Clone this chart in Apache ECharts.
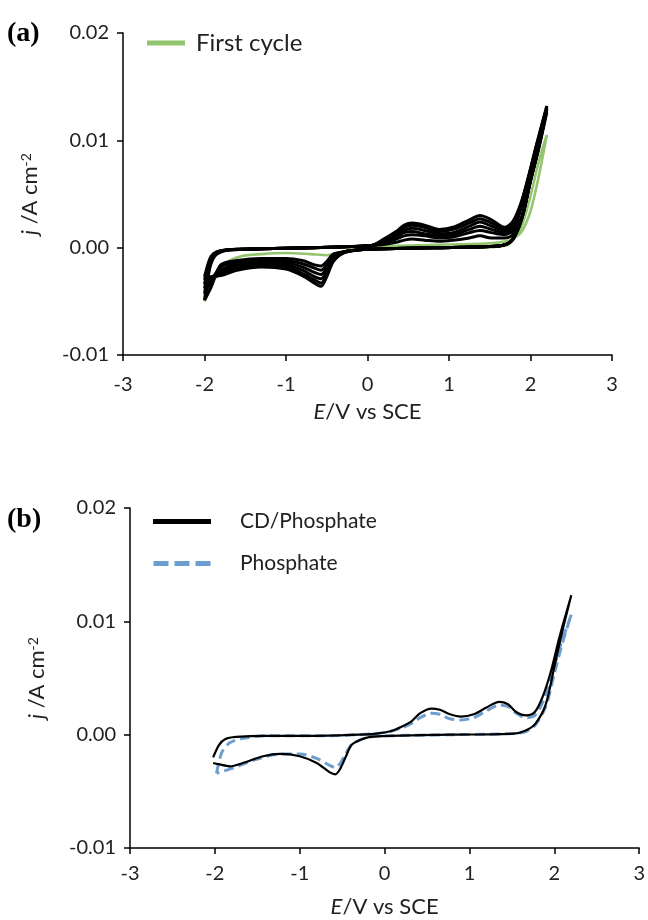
<!DOCTYPE html>
<html>
<head>
<meta charset="utf-8">
<script src="https://cdn.jsdelivr.net/npm/echarts@6/dist/echarts.min.js"></script>
<style>
  html, body { margin: 0; padding: 0; background: #fff; }
  #chart { width: 648px; height: 920px; }
</style>
</head>
<body>
<div id="chart"></div>
<script>
// x ticks (V vs SCE) and y ticks (A cm-2)
const xTicks = [-3, -2, -1, 0, 1, 2, 3]
const yTicks = [-0.01, 0.00, 0.01, 0.02]

// (a) first cycle, green
const firstCycle = [
  [0.0, 0.0000], [-0.2, -0.0002], [-0.4, -0.0006], [-0.5, -0.0007], [-0.7, -0.0006], [-1.0, -0.0005],
  [-1.3, -0.0006], [-1.55, -0.0008], [-1.75, -0.0015], [-1.88, -0.0030], [-2.0, -0.0050],
  [-1.95, -0.0020], [-1.88, -0.0007], [-1.75, -0.0002], [-1.3, -0.0001], [-0.5, 0.0000], [0.0, 0.0001],
  [0.5, 0.0002], [1.0, 0.0003], [1.5, 0.0004], [1.7, 0.0006], [1.8, 0.0009], [1.9, 0.0016],
  [2.0, 0.0034], [2.1, 0.0066], [2.2, 0.0105], [2.1, 0.0080], [2.0, 0.0048], [1.9, 0.0022],
  [1.8, 0.0008], [1.7, 0.0002], [1.3, 0.0000], [0.5, 0.0000], [0.0, 0.0000]
]

// (a) later cycles, black
const cycle1 = [
  [-2.0, -0.0049], [-1.96, -0.0029], [-1.92, -0.0015], [-1.85, -0.0006], [-1.7, -0.0002], [-1.3, -0.0001], [-0.7, 0.0000], [-0.2, 0.0001], [0.05, 0.0002], [0.2, 0.0003], [0.35, 0.0005], [0.45, 0.0007], [0.55, 0.0008], [0.7, 0.0007], [0.88, 0.0006], [1.05, 0.0007], [1.25, 0.0009], [1.38, 0.0011], [1.52, 0.0009], [1.68, 0.0009], [1.78, 0.0012], [1.88, 0.0036], [1.97, 0.0060], [2.07, 0.0090], [2.2, 0.0126],
  [2.1, 0.0092], [2.0, 0.0062], [1.9, 0.0029], [1.8, 0.0010], [1.7, 0.0003], [1.5, 0.0001], [0.8, 0.0000], [0.2, -0.0001], [-0.1, -0.0002], [-0.3, -0.0004], [-0.42, -0.0006], [-0.5, -0.0013], [-0.57, -0.0017], [-0.65, -0.0016], [-0.8, -0.0012], [-1.0, -0.0010], [-1.3, -0.0010], [-1.6, -0.0012], [-1.8, -0.0016], [-1.92, -0.0037], [-2.0, -0.0049]
]
const cycle2 = [
  [-2.0, -0.0043], [-1.96, -0.0026], [-1.92, -0.0013], [-1.85, -0.0006], [-1.7, -0.0002], [-1.3, -0.0001], [-0.7, 0.0000], [-0.2, 0.0001], [0.05, 0.0002], [0.2, 0.0004], [0.35, 0.0008], [0.45, 0.0011], [0.55, 0.0012], [0.7, 0.0011], [0.88, 0.0009], [1.05, 0.0010], [1.25, 0.0014], [1.38, 0.0016], [1.52, 0.0014], [1.68, 0.0012], [1.78, 0.0016], [1.88, 0.0037], [1.97, 0.0061], [2.07, 0.0091], [2.2, 0.0128],
  [2.1, 0.0093], [2.0, 0.0062], [1.9, 0.0029], [1.8, 0.0010], [1.7, 0.0003], [1.5, 0.0001], [0.8, 0.0000], [0.2, -0.0001], [-0.1, -0.0002], [-0.3, -0.0004], [-0.42, -0.0007], [-0.5, -0.0016], [-0.57, -0.0021], [-0.65, -0.0019], [-0.8, -0.0015], [-1.0, -0.0012], [-1.3, -0.0012], [-1.6, -0.0014], [-1.8, -0.0018], [-1.92, -0.0032], [-2.0, -0.0043]
]
const cycle3 = [
  [-2.0, -0.0038], [-1.96, -0.0023], [-1.92, -0.0011], [-1.85, -0.0005], [-1.7, -0.0002], [-1.3, -0.0001], [-0.7, 0.0000], [-0.2, 0.0001], [0.05, 0.0002], [0.2, 0.0005], [0.35, 0.0010], [0.45, 0.0014], [0.55, 0.0015], [0.7, 0.0013], [0.88, 0.0011], [1.05, 0.0012], [1.25, 0.0017], [1.38, 0.0020], [1.52, 0.0017], [1.68, 0.0014], [1.78, 0.0018], [1.88, 0.0038], [1.97, 0.0062], [2.07, 0.0092], [2.2, 0.0129],
  [2.1, 0.0093], [2.0, 0.0063], [1.9, 0.0029], [1.8, 0.0010], [1.7, 0.0003], [1.5, 0.0001], [0.8, 0.0000], [0.2, -0.0001], [-0.1, -0.0002], [-0.3, -0.0004], [-0.42, -0.0009], [-0.5, -0.0019], [-0.57, -0.0025], [-0.65, -0.0023], [-0.8, -0.0018], [-1.0, -0.0014], [-1.3, -0.0014], [-1.6, -0.0016], [-1.8, -0.0021], [-1.92, -0.0029], [-2.0, -0.0038]
]
const cycle4 = [
  [-2.0, -0.0034], [-1.96, -0.0020], [-1.92, -0.0010], [-1.85, -0.0005], [-1.7, -0.0002], [-1.3, -0.0001], [-0.7, 0.0000], [-0.2, 0.0001], [0.05, 0.0002], [0.2, 0.0006], [0.35, 0.0012], [0.45, 0.0016], [0.55, 0.0018], [0.7, 0.0016], [0.88, 0.0013], [1.05, 0.0014], [1.25, 0.0020], [1.38, 0.0024], [1.52, 0.0020], [1.68, 0.0016], [1.78, 0.0020], [1.88, 0.0039], [1.97, 0.0063], [2.07, 0.0093], [2.2, 0.0130],
  [2.1, 0.0094], [2.0, 0.0063], [1.9, 0.0029], [1.8, 0.0010], [1.7, 0.0003], [1.5, 0.0001], [0.8, 0.0000], [0.2, -0.0001], [-0.1, -0.0002], [-0.3, -0.0004], [-0.42, -0.0010], [-0.5, -0.0022], [-0.57, -0.0029], [-0.65, -0.0027], [-0.8, -0.0021], [-1.0, -0.0016], [-1.3, -0.0015], [-1.6, -0.0018], [-1.8, -0.0023], [-1.92, -0.0028], [-2.0, -0.0034]
]
const cycle5 = [
  [-2.0, -0.0030], [-1.96, -0.0018], [-1.92, -0.0009], [-1.85, -0.0004], [-1.7, -0.0002], [-1.3, -0.0001], [-0.7, 0.0000], [-0.2, 0.0001], [0.05, 0.0002], [0.2, 0.0007], [0.35, 0.0014], [0.45, 0.0019], [0.55, 0.0021], [0.7, 0.0019], [0.88, 0.0015], [1.05, 0.0017], [1.25, 0.0023], [1.38, 0.0027], [1.52, 0.0023], [1.68, 0.0018], [1.78, 0.0022], [1.88, 0.0040], [1.97, 0.0064], [2.07, 0.0094], [2.2, 0.0131],
  [2.1, 0.0094], [2.0, 0.0064], [1.9, 0.0030], [1.8, 0.0010], [1.7, 0.0003], [1.5, 0.0001], [0.8, 0.0000], [0.2, -0.0001], [-0.1, -0.0002], [-0.3, -0.0005], [-0.42, -0.0012], [-0.5, -0.0025], [-0.57, -0.0033], [-0.65, -0.0030], [-0.8, -0.0024], [-1.0, -0.0018], [-1.3, -0.0017], [-1.6, -0.0020], [-1.8, -0.0025], [-1.92, -0.0028], [-2.0, -0.0030]
]
const cycle6 = [
  [-2.0, -0.0027], [-1.96, -0.0016], [-1.92, -0.0008], [-1.85, -0.0004], [-1.7, -0.0002], [-1.3, -0.0001], [-0.7, 0.0000], [-0.2, 0.0001], [0.05, 0.0002], [0.2, 0.0008], [0.35, 0.0015], [0.45, 0.0021], [0.55, 0.0023], [0.7, 0.0021], [0.88, 0.0017], [1.05, 0.0019], [1.25, 0.0026], [1.38, 0.0030], [1.52, 0.0026], [1.68, 0.0019], [1.78, 0.0024], [1.88, 0.0041], [1.97, 0.0065], [2.07, 0.0095], [2.2, 0.0132],
  [2.1, 0.0095], [2.0, 0.0064], [1.9, 0.0030], [1.8, 0.0010], [1.7, 0.0003], [1.5, 0.0001], [0.8, 0.0000], [0.2, -0.0001], [-0.1, -0.0002], [-0.3, -0.0005], [-0.42, -0.0013], [-0.5, -0.0027], [-0.57, -0.0036], [-0.65, -0.0033], [-0.8, -0.0026], [-1.0, -0.0020], [-1.3, -0.0018], [-1.6, -0.0021], [-1.8, -0.0026], [-1.92, -0.0027], [-2.0, -0.0027]
]
const laterCycles = [cycle1, cycle2, cycle3, cycle4, cycle5, cycle6]

// (b) CD/Phosphate, solid black
const cdPhosphate = [
  [-2.02, -0.0020], [-1.95, -0.0009], [-1.88, -0.0004], [-1.75, -0.0002], [-1.4, -0.0001], [-0.8, -0.0001], [-0.3, 0.0000], [-0.1, 0.0001], [0.07, 0.0003], [0.2, 0.0007], [0.32, 0.0012], [0.42, 0.0019], [0.55, 0.0023], [0.65, 0.0022], [0.77, 0.0018], [0.9, 0.0016], [1.05, 0.0018], [1.2, 0.0024], [1.35, 0.0029], [1.45, 0.0027], [1.55, 0.0020], [1.67, 0.0017], [1.77, 0.0020], [1.86, 0.0033], [1.96, 0.0056], [2.06, 0.0086], [2.2, 0.0123],
  [2.1, 0.0093], [2.0, 0.0060], [1.9, 0.0027], [1.78, 0.0010], [1.67, 0.0004], [1.52, 0.0001], [0.8, 0.0000], [0.07, -0.0001], [-0.17, -0.0002], [-0.3, -0.0005], [-0.39, -0.0009], [-0.46, -0.0020], [-0.53, -0.0031], [-0.58, -0.0035], [-0.65, -0.0033], [-0.8, -0.0025], [-1.0, -0.0019], [-1.23, -0.0017], [-1.43, -0.0019], [-1.67, -0.0025], [-1.82, -0.0028], [-1.96, -0.0026], [-2.02, -0.0025]
]
// (b) Phosphate, dashed blue
const phosphate = [
  [-1.98, -0.0034], [-1.92, -0.0016], [-1.82, -0.0007], [-1.65, -0.0003], [-1.4, -0.0001], [-0.8, -0.0001], [-0.3, 0.0000], [-0.1, 0.0001], [0.07, 0.0003], [0.2, 0.0006], [0.32, 0.0010], [0.42, 0.0015], [0.55, 0.0019], [0.65, 0.0018], [0.77, 0.0014], [0.9, 0.0013], [1.05, 0.0015], [1.2, 0.0021], [1.35, 0.0026], [1.45, 0.0025], [1.55, 0.0019], [1.67, 0.0015], [1.77, 0.0017], [1.86, 0.0028], [1.96, 0.0050], [2.06, 0.0076], [2.2, 0.0106],
  [2.1, 0.0082], [2.0, 0.0054], [1.9, 0.0025], [1.78, 0.0009], [1.67, 0.0003], [1.52, 0.0001], [0.8, 0.0000], [0.07, -0.0001], [-0.17, -0.0002], [-0.3, -0.0005], [-0.39, -0.0009], [-0.46, -0.0017], [-0.53, -0.0026], [-0.58, -0.0029], [-0.65, -0.0027], [-0.8, -0.0021], [-1.0, -0.0017], [-1.23, -0.0017], [-1.52, -0.0022], [-1.81, -0.0030], [-1.98, -0.0034]
]

const FONT = 'Lato, "Liberation Sans", sans-serif'
const TXT = '#222'
const GREEN = '#93c56f'
const BLUE = '#6c9fcf'
const DASH_ICON = 'path://M0,0h15v5h-15z M21,0h15v5h-15z M42,0h15v5h-15z'

const fmtY = v => (Math.abs(v) < 1e-9 ? 0 : v).toFixed(2)

// Общие настройки осей для обеих панелей
function xAxisFor(idx, labelMargin, nameGap) {
  return {
    gridIndex: idx,
    type: 'value',
    min: xTicks[0],
    max: xTicks[xTicks.length - 1],
    interval: 1,
    axisLine: { onZero: false, lineStyle: { color: '#000', width: 1.5 } },
    axisTick: { length: 6, lineStyle: { color: '#000', width: 1.5 } },
    splitLine: { show: false },
    axisLabel: { fontSize: 20, color: TXT, fontFamily: FONT, margin: labelMargin },
    name: '{i|E}/V vs SCE',
    nameLocation: 'middle',
    nameGap: nameGap,
    nameTextStyle: {
      fontSize: 22, color: TXT, fontFamily: FONT,
      rich: { i: { fontSize: 22, fontStyle: 'italic', color: TXT, fontFamily: FONT } },
    },
  }
}
function yAxisFor(idx, nameGap) {
  return {
    gridIndex: idx,
    type: 'value',
    min: yTicks[0],
    max: yTicks[yTicks.length - 1],
    interval: 0.01,
    axisLine: { show: true, onZero: false, lineStyle: { color: '#000', width: 1.5 } },
    axisTick: { show: true, length: 6, lineStyle: { color: '#000', width: 1.5 } },
    splitLine: { show: false },
    axisLabel: { fontSize: 20, color: TXT, fontFamily: FONT, margin: 14, formatter: fmtY },
    name: '{i|j} /A cm{s|-2}',
    nameLocation: 'middle',
    nameGap: nameGap,
    nameRotate: 90,
    nameTextStyle: {
      fontSize: 22, color: TXT, fontFamily: FONT,
      rich: {
        i: { fontSize: 22, fontStyle: 'italic', color: TXT, fontFamily: FONT },
        s: { fontSize: 14, color: TXT, fontFamily: FONT, verticalAlign: 'top' },
      },
    },
  }
}

const series = [
  {
    name: 'First cycle', type: 'line', xAxisIndex: 0, yAxisIndex: 0,
    data: firstCycle, symbol: 'none', smooth: 0.3,
    lineStyle: { color: GREEN, width: 2.6 }, itemStyle: { color: GREEN },
  },
]
laterCycles.forEach((c, i) => {
  series.push({
    name: 'cycle' + (i + 2), type: 'line', xAxisIndex: 0, yAxisIndex: 0,
    data: c, symbol: 'none', smooth: 0.3,
    lineStyle: { color: '#000', width: 3 }, itemStyle: { color: '#000' },
  })
})
series.push(
  {
    name: 'Phosphate', type: 'line', xAxisIndex: 1, yAxisIndex: 1,
    data: phosphate, symbol: 'none', smooth: 0.3,
    lineStyle: { color: BLUE, width: 3, type: [10, 5] }, itemStyle: { color: BLUE },
  },
  {
    name: 'CD/Phosphate', type: 'line', xAxisIndex: 1, yAxisIndex: 1,
    data: cdPhosphate, symbol: 'none', smooth: 0.3,
    lineStyle: { color: '#000', width: 2.2 }, itemStyle: { color: '#000' },
  }
)

const chart = echarts.init(document.getElementById('chart'))
chart.setOption({
  animation: false,
  backgroundColor: '#fff',
  grid: [
    { left: 123, top: 33, width: 489, height: 322 },
    { left: 130, top: 508, width: 513, height: 340 },
  ],
  xAxis: [xAxisFor(0, 20, 46), xAxisFor(1, 16, 48)],
  yAxis: [yAxisFor(0, 82), yAxisFor(1, 82)],
  legend: [
    {
      data: [{ name: 'First cycle', icon: 'rect', itemStyle: { color: GREEN } }],
      left: 142, top: 26,
      itemWidth: 38, itemHeight: 5,
      textStyle: { fontSize: 24, color: TXT, fontFamily: FONT, padding: [0, 0, 0, 6] },
    },
    {
      data: [
        { name: 'CD/Phosphate', icon: 'rect', itemStyle: { color: '#000' } },
        { name: 'Phosphate', icon: DASH_ICON, itemStyle: { color: BLUE } },
      ],
      orient: 'vertical',
      left: 148, top: 506,
      itemWidth: 58, itemHeight: 5, itemGap: 21,
      textStyle: { fontSize: 21, color: TXT, fontFamily: FONT, padding: [0, 0, 0, 24] },
    },
  ],
  graphic: [
    { type: 'text', left: 7, top: 20, style: { text: '(a)', font: 'bold 28px "Liberation Serif"', fill: '#000' } },
    { type: 'text', left: 7, top: 506, style: { text: '(b)', font: 'bold 28px "Liberation Serif"', fill: '#000' } },
  ],
  series: series,
})
</script>
</body>
</html>
